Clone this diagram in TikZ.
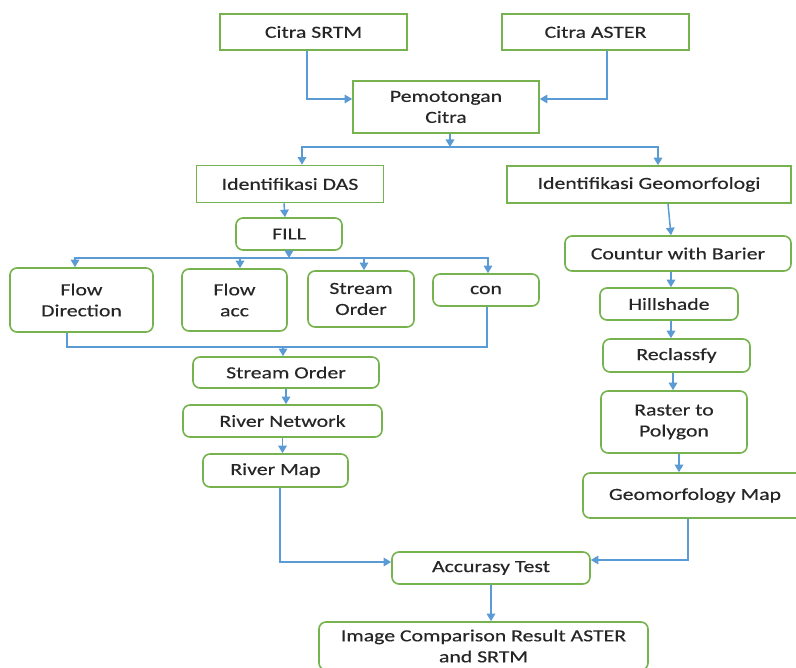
\documentclass[tikz,border=0pt]{standalone}
\usepackage{fontspec}
\setmainfont{Carlito}[FakeStretch=1.28,FakeBold=0.4]
\usetikzlibrary{arrows.meta,positioning,shapes.geometric}
\definecolor{boxgreen}{RGB}{118,178,78}
\definecolor{lineblue}{RGB}{91,155,213}
\definecolor{txt}{RGB}{38,38,38}

\begin{document}
\begin{tikzpicture}[x=1pt,y=-1pt,>={Triangle[length=7.5pt,width=8.5pt]},
    line width=1.5pt,color=lineblue,
    box/.style={rectangle,draw=boxgreen,line width=1.6pt,inner sep=0pt,align=center,
        text=txt,font=\fontsize{17}{21}\selectfont},
    rbox/.style={box,rounded corners=7pt}]

\useasboundingbox (0,0) rectangle (796,668);

\node[box, minimum width=187, minimum height=36]  (srtm)  at (313.5,32)  {Citra SRTM};
\node[box, minimum width=187, minimum height=36]  (aster) at (595.5,32)  {Citra ASTER};
\node[box, minimum width=186, minimum height=52]  (cut)   at (446,107)   {Pemotongan\\Citra};
\node[box, minimum width=187, minimum height=37]  (das)   at (290,184)   {Identifikasi DAS};
\node[box, minimum width=284, minimum height=37]  (geo)   at (649,184.5) {Identifikasi Geomorfologi};

% cabang DAS
\node[rbox, minimum width=106, minimum height=32] (fill)  at (289,234)   {FILL};
\node[rbox, minimum width=143, minimum height=64] (fdir)  at (81.5,300)  {Flow\\Direction};
\node[rbox, minimum width=105, minimum height=62] (facc)  at (234.5,300) {Flow\\acc};
\node[rbox, minimum width=106, minimum height=56] (sord)  at (361,299)   {Stream\\Order};
\node[rbox, minimum width=106, minimum height=32] (con)   at (486,290)   {con};
\node[rbox, minimum width=186, minimum height=31] (sord2) at (286,372.5) {Stream Order};
\node[rbox, minimum width=199, minimum height=32] (rnet)  at (282.5,421) {River Network};
\node[rbox, minimum width=145, minimum height=33] (rmap)  at (275.5,470.5) {River Map};

% cabang geomorfologi
\node[rbox, minimum width=226, minimum height=35] (ctr)   at (678,253.5) {Countur with Barier};
\node[rbox, minimum width=138, minimum height=32] (hill)  at (669,304)   {Hillshade};
\node[rbox, minimum width=147, minimum height=33] (recl)  at (676.5,355.5) {Reclassfy};
\node[rbox, minimum width=146, minimum height=62] (rast)  at (674,422)   {Raster to\\Polygon};
\node[rbox, minimum width=224, minimum height=45] (gmap)  at (695,495.5) {Geomorfology Map};

\node[rbox, minimum width=198, minimum height=32] (acc)   at (491,568)   {Accurasy Test};
\node[rbox, minimum width=329, minimum height=48] (res)   at (483.5,646) {Image Comparison Result ASTER\\and SRTM};

\coordinate (j1) at (450,147);
\coordinate (j2) at (289,258);
\coordinate (j3) at (283,347);

\draw[->] ([xshift=-6.5pt]srtm.south) |- ([yshift=8pt]cut.west);
\draw[->] ([xshift=11.5pt]aster.south) |- ([yshift=8pt]cut.east);
\draw[->] ([xshift=4pt]cut.south) -- (j1);
\draw[->] (j1) -| ([xshift=12pt]das.north);
\draw[->] (j1) -| ([xshift=9pt]geo.north);

\draw[->] ([xshift=-6pt]das.south) -- ([xshift=-4pt]fill.north);
\draw[->] (fill.south) -- (j2);
\draw[->] (j2) -| ([xshift=-6.5pt]fdir.north);
\draw[->] (j2) -| ([xshift=5.5pt]facc.north);
\draw[->] (j2) -| ([xshift=3pt]sord.north);
\draw[->] (j2) -| ([xshift=2pt]con.north);
\draw ([xshift=-14.5pt]fdir.south) |- (j3);
\draw ([xshift=1pt]con.south) |- (j3);
\draw[->] (j3) -- (j3 |- sord2.north);
\draw[->] (sord2.south) -- (sord2.south |- rnet.north);
\draw[->] (rnet.south) -- (rnet.south |- rmap.north);
\draw[->] ([xshift=4.5pt]rmap.south) |- ([yshift=6pt]acc.west);

\draw[->] ([xshift=19pt]geo.south) -- ([xshift=-7pt]ctr.north);
\draw[->] ([xshift=-7pt]ctr.south) -- ([xshift=-7pt]ctr.south |- hill.north);
\draw[->] ([xshift=2pt]hill.south) -- ([xshift=2pt]hill.south |- recl.north);
\draw[->] ([xshift=-3.5pt]recl.south) -- ([xshift=-3.5pt]recl.south |- rast.north);
\draw[->] ([xshift=5pt]rast.south) -- ([xshift=5pt]rast.south |- gmap.north);
\draw[->] ([xshift=-7pt]gmap.south) |- ([yshift=8pt]acc.east);
\draw[->] (acc.south) -- (acc.south |- res.north);
\end{tikzpicture}
\end{document}
